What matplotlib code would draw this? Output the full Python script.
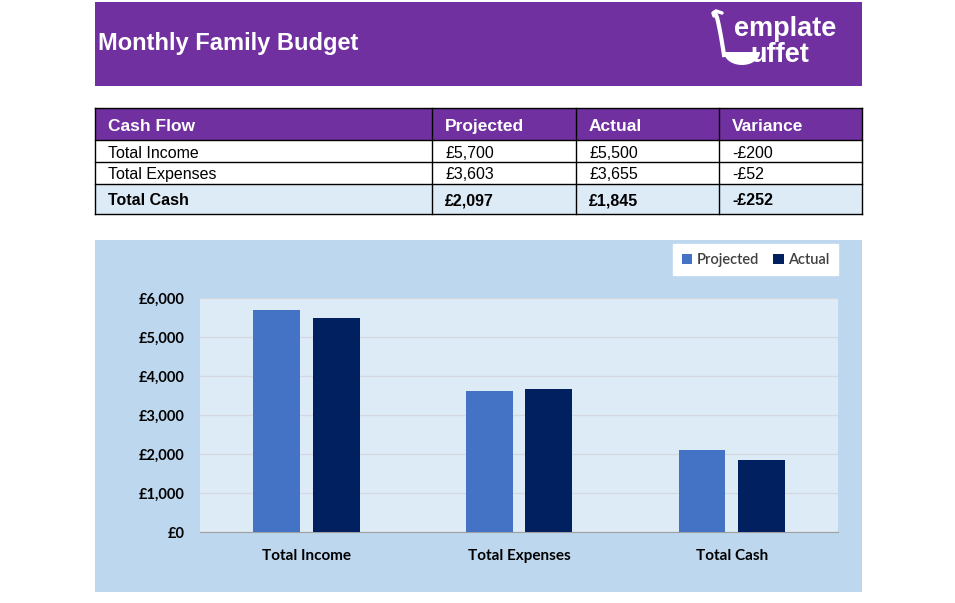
import numpy as np
import matplotlib.pyplot as plt
from matplotlib.patches import Rectangle, Polygon

# data
categories = ['Total Income', 'Total Expenses', 'Total Cash']
projected = [5700, 3603, 2097]
actual = [5500, 3655, 1845]
variance = [-200, -52, -252]
table_header = ['Cash Flow', 'Projected', 'Actual', 'Variance']
y_ticks = [0, 1000, 2000, 3000, 4000, 5000, 6000]

purple = '#7030A0'
light_blue = '#DDEBF7'
chart_blue = '#BDD7EE'
proj_color = '#4472C4'
act_color = '#002060'


def money(v):
    s = '£{:,.0f}'.format(abs(v))
    return '-' + s if v < 0 else s


W, H = 955, 603
fig = plt.figure(figsize=(W / 100, H / 100), dpi=100)
fig.patch.set_facecolor('white')

# background axes in pixel coordinates
bg = fig.add_axes([0, 0, 1, 1])
bg.set_xlim(0, W)
bg.set_ylim(H, 0)
bg.axis('off')

# banner
bg.add_patch(Rectangle((95, 2), 767, 84, facecolor=purple, edgecolor='none'))
bg.text(98, 50, 'Monthly Family Budget', color='white', fontsize=17,
        fontweight='bold', family='Liberation Sans', va='baseline', ha='left')
# logo
bg.text(734, 36, 'emplate', color='white', fontsize=19.5, fontweight='bold',
        family='Liberation Sans', va='baseline', ha='left')
bg.text(750, 62, 'uffet', color='white', fontsize=19.5, fontweight='bold',
        family='Liberation Sans', va='baseline', ha='left')
t = np.linspace(0, 1, 30)
bg.plot([722, 716, 713, 714], [13, 11, 13, 16], color='white', lw=2.5,
        solid_capstyle='round')
bg.plot(716 + 8 * t, 15 + 40 * t ** 1.3, color='white', lw=3)
ang = np.linspace(0, np.pi, 30)
bowl = np.column_stack([742 + 18 * np.cos(ang), 52 + 13 * np.sin(ang)])
bg.add_patch(Polygon(bowl, closed=True, facecolor='white', edgecolor='none'))

# table
cols = [95, 432, 576, 719, 862]
rows = [108, 140, 162, 184, 214]
baselines = [158, 179, 205]
bg.add_patch(Rectangle((95, 108), 767, 32, facecolor=purple, edgecolor='none'))
bg.add_patch(Rectangle((95, 184), 767, 30, facecolor=light_blue, edgecolor='none'))
for j, h in enumerate(table_header):
    bg.text(cols[j] + 13, 131, h, color='white', fontsize=12.5, fontweight='bold',
            family='Liberation Sans', va='baseline', ha='left')

body = []
for i, c in enumerate(categories):
    body.append([c, money(projected[i]), money(actual[i]), money(variance[i])])
for i, r in enumerate(body):
    bold = i == len(body) - 1
    for j, v in enumerate(r):
        bg.text(cols[j] + 13, baselines[i], v, color='black', fontsize=11.5,
                fontweight='bold' if bold else 'normal',
                family='Liberation Sans', va='baseline', ha='left')

# grid lines of table
for y in rows:
    bg.plot([95, 862], [y, y], color='black', lw=1)
for x in cols:
    bg.plot([x, x], [108, 214], color='black', lw=1)

# chart background
bg.add_patch(Rectangle((95, 240), 767, 352, facecolor=chart_blue, edgecolor='none'))

# chart
ax = fig.add_axes([200 / W, (H - 532) / H, 638 / W, 234 / H])
ax.set_facecolor(light_blue)
x = np.arange(len(categories))
bw = 0.22
ax.bar(x - 0.14, projected, bw, color=proj_color, label='Projected', zorder=3)
ax.bar(x + 0.14, actual, bw, color=act_color, label='Actual', zorder=3)
ax.set_xlim(-0.5, 2.5)
ax.set_ylim(0, 6000)
ax.set_yticks(y_ticks)
ax.set_yticklabels([money(v) for v in y_ticks])
ax.set_xticks(x)
ax.set_xticklabels(categories)
ax.yaxis.grid(True, color='#D3D9DF', lw=1, zorder=0)
for s in ['top', 'right', 'left']:
    ax.spines[s].set_visible(False)
ax.spines['bottom'].set_color('#A0A0A0')
ax.tick_params(length=0)
ax.tick_params(axis='y', pad=11)
ax.tick_params(axis='x', pad=12)
for lab in ax.get_yticklabels() + ax.get_xticklabels():
    lab.set_family('Lato')
    lab.set_fontweight('bold')
    lab.set_fontsize(10.5)
    lab.set_color('black')
for lab in ax.get_xticklabels():
    lab.set_fontsize(11)

leg = fig.legend(loc='upper right', bbox_to_anchor=(838 / W, 1 - 244 / H), ncol=2,
                 frameon=True, fancybox=False, edgecolor='white', framealpha=1,
                 handlelength=0.7, handleheight=0.7, handletextpad=0.3,
                 columnspacing=1.0, borderpad=0.6, borderaxespad=0,
                 prop={'family': 'Lato', 'size': 10.5, 'weight': 'semibold'})
for txt in leg.get_texts():
    txt.set_color('#404040')

fig.savefig('out.png', dpi=100)
